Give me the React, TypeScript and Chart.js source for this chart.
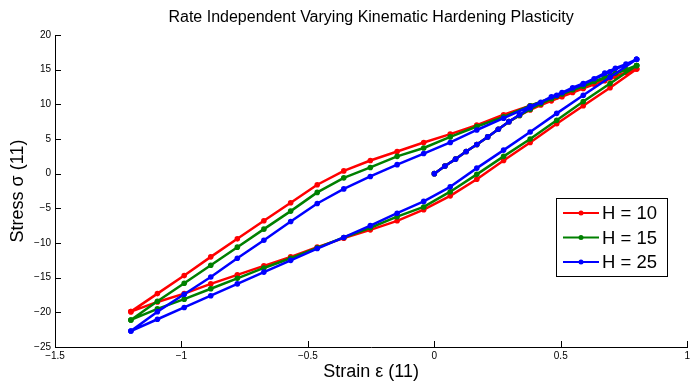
import { useEffect, useRef } from "react";
import { Chart, registerables } from "chart.js";

Chart.register(...registerables);

// Strain positions (loading 0 -> 0.8, unloading 0.8 -> -1.2, reloading -1.2 -> 0.8)
const loadStrain = [0, 0.042, 0.084, 0.126, 0.168, 0.211, 0.253, 0.295, 0.337, 0.379, 0.421, 0.463, 0.505, 0.547, 0.589, 0.632, 0.674, 0.716, 0.758, 0.8];
const unloadStrain = [0.8, 0.695, 0.589, 0.484, 0.379, 0.274, 0.168, 0.063, -0.042, -0.147, -0.253, -0.358, -0.463, -0.568, -0.674, -0.779, -0.884, -0.989, -1.095, -1.2];
const reloadStrain = [-1.2, -1.095, -0.989, -0.884, -0.779, -0.674, -0.568, -0.463, -0.358, -0.253, -0.147, -0.042, 0.063, 0.168, 0.274, 0.379, 0.484, 0.589, 0.695, 0.8];

// Stress values, H = 10
const loadH10 = [0, 1.1, 2.1, 3.2, 4.2, 5.3, 6.4, 7.5, 8.4, 9.2, 9.9, 10.5, 11.1, 11.7, 12.3, 12.9, 13.4, 14.0, 14.6, 15.1];
const unloadH10 = [15.1, 12.4, 9.8, 7.2, 4.5, 1.9, -0.8, -3.2, -5.2, -6.8, -8.1, -9.3, -10.6, -12.0, -13.3, -14.6, -15.9, -17.3, -18.5, -19.9];
const reloadH10 = [-19.9, -17.3, -14.7, -12.0, -9.4, -6.8, -4.2, -1.6, 0.4, 1.9, 3.2, 4.5, 5.7, 7.0, 8.5, 9.8, 11.1, 12.4, 13.8, 15.1];

// Stress values, H = 15
const loadH15 = [0, 1.1, 2.1, 3.2, 4.2, 5.3, 6.4, 7.5, 8.4, 9.3, 10.1, 10.8, 11.5, 12.1, 12.7, 13.3, 13.9, 14.5, 15.0, 15.6];
const unloadH15 = [15.6, 13.0, 10.4, 7.7, 5.0, 2.5, -0.1, -2.6, -4.8, -6.2, -7.8, -9.2, -10.7, -12.2, -13.6, -15.1, -16.6, -18.1, -19.5, -21.1];
const reloadH15 = [-21.1, -18.4, -15.8, -13.2, -10.6, -8.0, -5.4, -2.7, -0.6, 0.9, 2.5, 3.7, 5.3, 6.8, 8.2, 9.8, 11.2, 12.6, 14.1, 15.6];

// Stress values, H = 25
const loadH25 = [0, 1.1, 2.1, 3.2, 4.2, 5.3, 6.4, 7.5, 8.5, 9.5, 10.3, 11.1, 11.7, 12.4, 13.0, 13.7, 14.5, 15.2, 15.8, 16.5];
const unloadH25 = [16.5, 13.9, 11.3, 8.7, 6.0, 3.4, 0.8, -1.9, -4.0, -5.7, -7.5, -9.2, -10.8, -12.5, -14.2, -15.9, -17.6, -19.3, -21.0, -22.7];
const reloadH25 = [-22.7, -19.9, -17.4, -14.9, -12.2, -9.6, -6.9, -4.3, -2.2, -0.4, 1.3, 2.9, 4.5, 6.3, 8.0, 9.7, 11.3, 12.9, 14.7, 16.5];

const seriesLabels = ["H = 10", "H = 15", "H = 25"];
const seriesColors = ["#ff0000", "#008000", "#0000ff"];

const titleText = "Rate Independent Varying Kinematic Hardening Plasticity";
const xTitle = "Strain \u03b5 (11)";
const yTitle = "Stress \u03c3 (11)";

const FONT = "'Liberation Sans', Arial, Helvetica, sans-serif";

function toPoints(xs: number[], ys: number[]) {
  return xs.map((x, i) => ({ x, y: ys[i] }));
}

function path(load: number[], unload: number[], reload: number[]) {
  return [
    ...toPoints(loadStrain, load),
    ...toPoints(unloadStrain, unload),
    ...toPoints(reloadStrain, reload),
  ];
}

const fmt = (v: number | string) => String(v).replace("-", "\u2212");

const axisTicksPlugin = {
  id: "inwardTicks",
  afterDraw(chart: any) {
    const ctx = chart.ctx;
    const area = chart.chartArea;
    const xs = chart.scales.x;
    const ys = chart.scales.y;
    ctx.save();
    ctx.strokeStyle = "#000";
    ctx.lineWidth = 1;
    ctx.beginPath();
    xs.ticks.forEach((t: any) => {
      const px = Math.round(xs.getPixelForValue(t.value)) + 0.5;
      ctx.moveTo(px, area.bottom);
      ctx.lineTo(px, area.bottom - 6);
    });
    ys.ticks.forEach((t: any) => {
      const py = Math.round(ys.getPixelForValue(t.value)) + 0.5;
      ctx.moveTo(area.left, py);
      ctx.lineTo(area.left + 6, py);
    });
    ctx.stroke();
    ctx.restore();
  },
};

const legendPlugin = {
  id: "boxLegend",
  afterDraw(chart: any) {
    const ctx = chart.ctx;
    const bx = 556.5;
    const by = 198.5;
    const bw = 111;
    const bh = 78;
    ctx.save();
    ctx.fillStyle = "#fff";
    ctx.fillRect(bx, by, bw, bh);
    ctx.strokeStyle = "#000";
    ctx.lineWidth = 1;
    ctx.strokeRect(bx, by, bw, bh);
    const rows = [213, 237.5, 262];
    ctx.font = `18.5px ${FONT}`;
    ctx.textBaseline = "middle";
    ctx.textAlign = "left";
    seriesLabels.forEach((lab, i) => {
      const y = rows[i];
      ctx.strokeStyle = seriesColors[i];
      ctx.lineWidth = 2.2;
      ctx.beginPath();
      ctx.moveTo(563, y);
      ctx.lineTo(599, y);
      ctx.stroke();
      ctx.fillStyle = seriesColors[i];
      ctx.beginPath();
      ctx.arc(581, y, 2.5, 0, Math.PI * 2);
      ctx.fill();
      ctx.fillStyle = "#000";
      ctx.fillText(lab, 602, y + 1);
    });
    ctx.restore();
  },
};

export default function App() {
  const canvasRef = useRef<HTMLCanvasElement | null>(null);

  useEffect(() => {
    const canvas = canvasRef.current;
    if (!canvas) return;
    const paths = [
      path(loadH10, unloadH10, reloadH10),
      path(loadH15, unloadH15, reloadH15),
      path(loadH25, unloadH25, reloadH25),
    ];
    const chart = new Chart(canvas, {
      type: "scatter",
      data: {
        datasets: paths.map((d, i) => ({
          label: seriesLabels[i],
          data: d,
          showLine: true,
          borderColor: seriesColors[i],
          backgroundColor: seriesColors[i],
          borderWidth: 2.5,
          borderJoinStyle: "round",
          borderCapStyle: "round",
          pointRadius: 2.8,
          pointBorderWidth: 0,
          pointHoverRadius: 2.8,
          order: 2 - i,
        })),
      },
      options: {
        responsive: false,
        animation: false,
        devicePixelRatio: 1,
        layout: { padding: { left: 0, right: 2, top: 0, bottom: 0 } },
        plugins: {
          legend: { display: false },
          tooltip: { enabled: false },
          title: {
            display: true,
            text: titleText,
            fullSize: false,
            color: "#000",
            font: { family: FONT, size: 16, weight: "normal", lineHeight: 1.2 },
            padding: { top: 8, bottom: 7.8 },
          },
        },
        scales: {
          x: {
            type: "linear",
            min: -1.5,
            max: 1,
            grid: { display: false, drawTicks: false },
            border: { display: true, color: "#000", width: 1 },
            ticks: {
              stepSize: 0.5,
              padding: 3,
              color: "#000",
              maxRotation: 0,
              font: { family: FONT, size: 10 },
              callback: (v: any) => fmt(v),
            },
            title: {
              display: true,
              text: xTitle,
              color: "#000",
              font: { family: FONT, size: 18, lineHeight: 1.2 },
              padding: { top: 0, bottom: 2 },
            },
            afterFit: (s: any) => {
              s.height = 38;
              s.paddingLeft = 0;
              s.paddingRight = 0;
            },
          },
          y: {
            type: "linear",
            min: -25,
            max: 20,
            grid: { display: false, drawTicks: false },
            border: { display: true, color: "#000", width: 1 },
            ticks: {
              stepSize: 5,
              padding: 4,
              color: "#000",
              font: { family: FONT, size: 10 },
              callback: (v: any) => fmt(v),
            },
            title: {
              display: true,
              text: yTitle,
              color: "#000",
              font: { family: FONT, size: 18, lineHeight: 1.2 },
              padding: { top: 7, bottom: 0 },
            },
            afterFit: (s: any) => {
              s.width = 55;
              s.paddingTop = 0;
              s.paddingBottom = 0;
            },
          },
        },
      },
      plugins: [axisTicksPlugin, legendPlugin],
    });
    return () => chart.destroy();
  }, []);

  return (
    <div style={{ position: "absolute", left: 0, top: 0, width: 690, height: 385, background: "#fff" }}>
      <canvas ref={canvasRef} width={690} height={385} style={{ display: "block", width: 690, height: 385 }} />
    </div>
  );
}
